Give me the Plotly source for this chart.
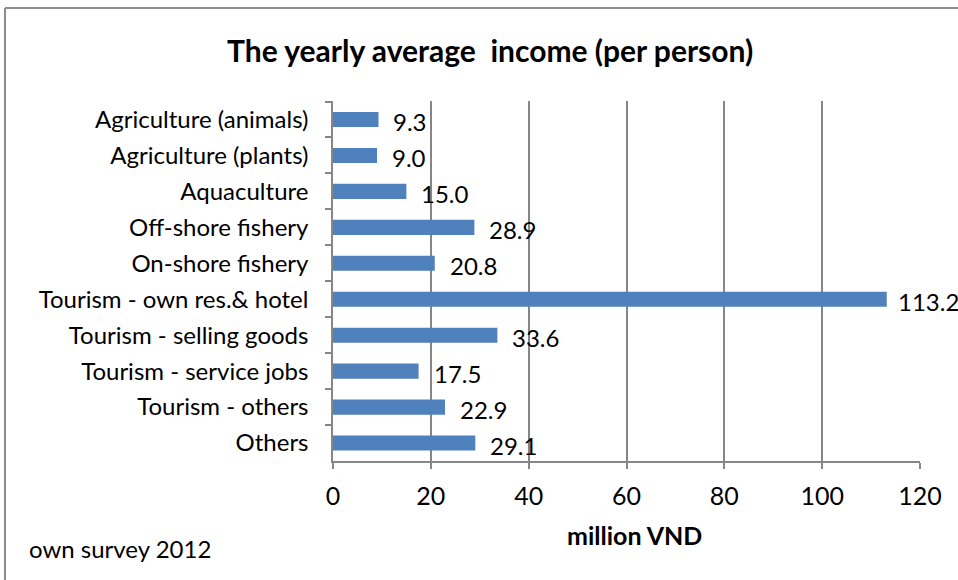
import plotly.graph_objects as go

# Survey categories (top to bottom) and yearly average income, million VND
categories = [
    "Agriculture (animals)",
    "Agriculture (plants)",
    "Aquaculture",
    "Off-shore fishery",
    "On-shore fishery",
    "Tourism - own res.& hotel",
    "Tourism - selling goods",
    "Tourism - service jobs",
    "Tourism - others",
    "Others",
]
income = [9.3, 9.0, 15.0, 28.9, 20.8, 113.2, 33.6, 17.5, 22.9, 29.1]
x_ticks = [0, 20, 40, 60, 80, 100, 120]

FONT = "Lato"
GRID = "#868686"

fig = go.Figure()
fig.add_trace(go.Bar(
    x=income,
    y=categories,
    orientation="h",
    width=0.42,
    marker=dict(color="#4F81BD", line=dict(width=0)),
    hoverinfo="x+y",
))

# value labels placed just right of each bar (the longest bar's label is
# pulled in a little so it stays inside the page)
for cat, val in zip(categories, income):
    fig.add_annotation(
        x=val, y=cat, xref="x", yref="y",
        text=f"{val:.1f}", showarrow=False,
        xanchor="left", xshift=9 if val > 100 else 13, yshift=-2,
        font=dict(family=FONT, size=24, color="#000000"),
    )

W, H = 958, 580
L, R, T, B = 333, 38, 101, 119
pw, ph = W - L - R, H - T - B


def px(xp):
    return (xp - L) / pw


def py(yp):
    return (H - B - yp) / ph


# chart frame (left and top edges visible)
fig.add_shape(type="line", xref="paper", yref="paper",
              x0=px(5), x1=px(5), y0=py(8), y1=py(600),
              line=dict(color="#8c8c8c", width=2))
fig.add_shape(type="line", xref="paper", yref="paper",
              x0=px(5), x1=px(980), y0=py(8), y1=py(8),
              line=dict(color="#8c8c8c", width=2))

fig.add_annotation(
    xref="paper", yref="paper", x=px(490), y=py(50),
    text="<b>The yearly average  income (per person)</b>",
    showarrow=False, xanchor="center", yanchor="middle",
    font=dict(family=FONT, size=30, color="#000000"),
)
fig.add_annotation(
    xref="paper", yref="paper", x=px(634), y=py(535),
    text="<b>million VND</b>", showarrow=False,
    xanchor="center", yanchor="middle",
    font=dict(family=FONT, size=25, color="#000000"),
)
fig.add_annotation(
    xref="paper", yref="paper", x=px(27), y=py(548),
    text="own survey 2012", showarrow=False,
    xanchor="left", yanchor="middle",
    font=dict(family=FONT, size=24, color="#000000"),
)

fig.update_layout(
    width=W, height=H,
    margin=dict(l=L, r=R, t=T, b=B, autoexpand=False),
    paper_bgcolor="#ffffff", plot_bgcolor="#ffffff",
    showlegend=False,
    font=dict(family=FONT, color="#000000"),
    bargap=0.58,
)
fig.update_xaxes(
    range=[0, 120], tickvals=x_ticks, ticktext=[str(t) for t in x_ticks],
    showgrid=True, gridcolor=GRID, gridwidth=1.5,
    showline=True, linecolor=GRID, linewidth=1.5,
    ticks="outside", ticklen=6, tickcolor=GRID, tickwidth=1.5,
    tickfont=dict(family=FONT, size=25, color="#000000"),
    ticklabelstandoff=6,
    zeroline=False, fixedrange=True,
)
fig.update_yaxes(
    autorange="reversed", type="category", tickson="boundaries",
    showgrid=False, showline=True, linecolor=GRID, linewidth=1.5,
    ticks="outside", ticklen=6, tickcolor=GRID, tickwidth=1.5,
    tickfont=dict(family=FONT, size=24, color="#000000"),
    ticklabelstandoff=18, fixedrange=True,
)

fig.write_html("out.html")
